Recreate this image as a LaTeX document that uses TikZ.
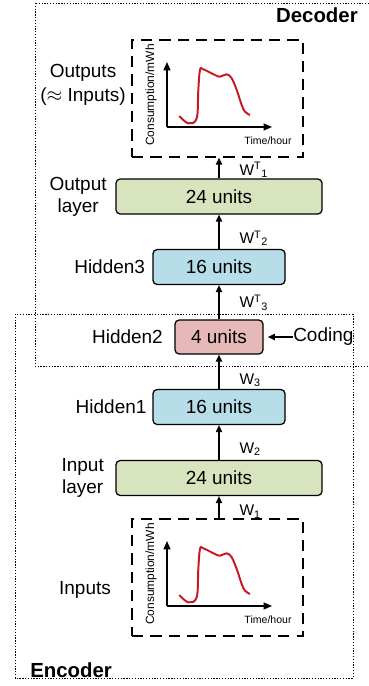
\documentclass[tikz,border=0pt]{standalone}
\usepackage{fontspec}
\setmainfont{Liberation Sans}
\usetikzlibrary{arrows.meta,positioning}
\definecolor{layergreen}{RGB}{215,228,189}
\definecolor{layerblue}{RGB}{183,222,232}
\definecolor{layerpink}{RGB}{230,185,184}
\definecolor{curvered}{RGB}{200,25,35}

\begin{document}
\begin{tikzpicture}[x=0.025cm,y=-0.025cm,>={Triangle[length=5pt,width=4.5pt]},
  layer/.style={draw,line width=0.9pt,rounded corners=3pt,minimum height=0.875cm,inner sep=0pt,font=\fontsize{13.5}{15}\selectfont},
  lbl/.style={inner sep=0pt,align=center,font=\fontsize{13.5}{15.5}\selectfont},
  wlbl/.style={inner sep=0pt,anchor=west,xshift=0.5cm,font=\fontsize{11}{12}\selectfont},
  grp/.style={draw,line width=0.7pt,dash pattern=on 0.9pt off 1.1pt},
  grptext/.style={inner sep=0pt,font=\fontsize{14.5}{16}\selectfont\bfseries},
  plotbox/.style={draw,line width=0.9pt,dash pattern=on 8pt off 5pt,minimum width=4.275cm,minimum height=2.925cm},
  axis/.style={line width=0.9pt,->,>={Triangle[length=6pt,width=5pt]}}]
  \useasboundingbox (0,0) rectangle (369,686);
  \draw[grp] (35,3) rectangle (372,366);
  \draw[grp] (15,314) rectangle (353,678);
  \node[grptext,anchor=east] (dectxt) at (358,15) {Decoder};
  \node[grptext,anchor=west] (enctxt) at (30,670) {Encoder};

  \foreach \yoff/\nm in {0/outplot,479/inplot}{
    \begin{scope}[shift={(0,\yoff)}]
      \node[plotbox] (\nm) at (217.5,98.5) {};
      \draw[axis] (167,127) -- (167,62);
      \draw[axis] (167,127) -- (272,127);
      \node[rotate=90,inner sep=0pt,font=\fontsize{8.5}{9}\selectfont] (\nm-ylab) at (151,95) {Consumption/mWh};
      \node[inner sep=0pt,font=\fontsize{7.5}{8}\selectfont] (\nm-xlab) at (268,141) {Time/hour};
      \draw[curvered,line width=1.4pt] plot[smooth,tension=0.6] coordinates {(179.3,116) (188.3,123.3) (196.7,118.3) (198.3,90) (200,70) (203.3,69.3) (215,75) (220,76.7) (226.7,74.3) (231.7,78.3) (236.7,90) (241.7,105) (245,111.7) (250,115)};
    \end{scope}
  }

  \node[layer,fill=layergreen,minimum width=5.15cm] (outlayer) at (219,196.5) {24 units};
  \node[layer,fill=layerblue,minimum width=3.3cm] (hid3) at (219,267) {16 units};
  \node[layer,fill=layerpink,minimum width=2.2cm,minimum height=0.85cm] (hid2) at (219,337) {4 units};
  \node[layer,fill=layerblue,minimum width=3.3cm] (hid1) at (219,407) {16 units};
  \node[layer,fill=layergreen,minimum width=5.15cm] (inlayer) at (219,478) {24 units};

  \draw[->,line width=0.8pt] (inplot.north -| inlayer) -- (inlayer) node[wlbl,pos=0.3] {W\textsubscript{1}};
  \draw[->,line width=0.8pt] (inlayer) -- (hid1) node[wlbl,pos=0.31] {W\textsubscript{2}};
  \draw[->,line width=0.8pt] (hid1) -- (hid2) node[wlbl,pos=0.26] {W\textsubscript{3}};
  \draw[->,line width=0.8pt] (hid2) -- (hid3) node[wlbl,pos=0.49] {W\textsuperscript{T}\textsubscript{3}};
  \draw[->,line width=0.8pt] (hid3) -- (outlayer) node[wlbl,pos=0.31] {W\textsuperscript{T}\textsubscript{2}};
  \draw[->,line width=0.8pt] (outlayer) -- (outplot.south -| outlayer) node[wlbl,pos=0.4] {W\textsuperscript{T}\textsubscript{1}};

  \node[lbl,anchor=west] (coding) at (293,337) {Coding};
  \draw[->,line width=0.8pt,shorten >=3pt] (coding) -- (hid2);

  \node[lbl,left=6pt of outlayer] (outlbl) {Output\\layer};
  \node[lbl,left=5pt of hid3] (hid3lbl) {Hidden3};
  \node[lbl,left=8pt of hid2] (hid2lbl) {Hidden2};
  \node[lbl,left=4pt of hid1] (hid1lbl) {Hidden1};
  \node[lbl,left=8pt of inlayer] (inlbl) {Input\\layer};
  \node[lbl,font=\fontsize{13.5}{17.5}\selectfont] (outputs) at (83,85) {Outputs\\($\approx$ Inputs)};
  \node[lbl] (inputs) at (85,590) {Inputs};
\end{tikzpicture}
\end{document}
